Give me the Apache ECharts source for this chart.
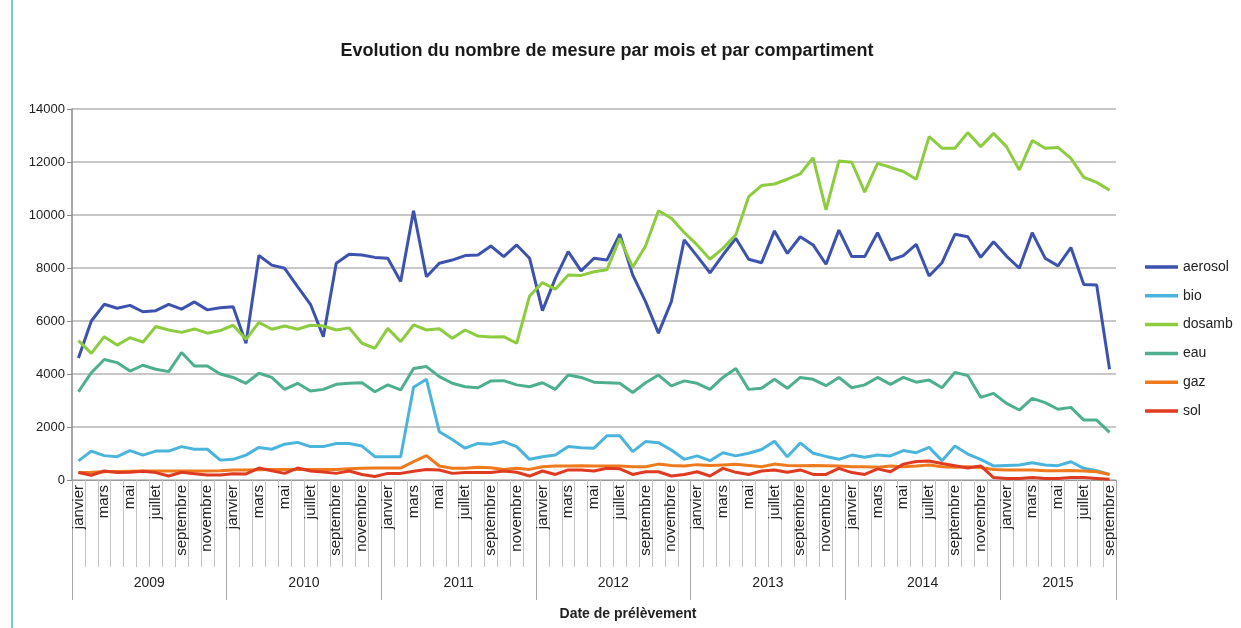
<!DOCTYPE html>
<html><head><meta charset="utf-8">
<script src="https://cdn.jsdelivr.net/npm/echarts@6/dist/echarts.min.js"></script>
<style>html,body{margin:0;padding:0;background:#fff}#c{width:1241px;height:628px}</style>
</head><body><div id="c"></div>
<script>
const years = [2009, 2010, 2011, 2012, 2013, 2014, 2015];
const monthNames = ['janvier','février','mars','avril','mai','juin','juillet','août','septembre','octobre','novembre','décembre'];
const monthsInLastYear = 9;

const aerosol = [4600,6000,6630,6480,6590,6350,6390,6630,6450,6720,6420,6500,
  6540,5160,8470,8110,7990,7300,6630,5410,8180,8520,8490,8400,
  8370,7490,10160,7670,8180,8300,8470,8490,8830,8430,8870,8370,
  6390,7610,8620,7890,8370,8300,9280,7740,6730,5540,6730,9060,
  8450,7820,8490,9120,8330,8200,9400,8550,9180,8870,8140,9430,
  8430,8430,9330,8300,8470,8890,7700,8200,9270,9180,8400,8990,
  8450,7990,9330,8370,8080,8770,7380,7360,4180];
const bio = [720,1090,920,880,1110,940,1090,1090,1260,1160,1160,750,
  780,940,1230,1160,1350,1420,1260,1260,1380,1380,1280,880,
  880,880,3500,3800,1820,1530,1200,1380,1350,1450,1260,780,
  880,940,1260,1220,1200,1670,1670,1070,1450,1410,1130,780,
  910,730,1030,910,1010,1150,1460,880,1400,1010,890,780,
  940,860,940,910,1110,1030,1230,730,1280,980,780,530,
  550,570,650,570,540,690,440,350,210];
const dosamb = [5260,4780,5410,5090,5370,5200,5790,5660,5570,5700,5540,5640,
  5840,5310,5950,5690,5810,5690,5840,5810,5660,5740,5160,4970,
  5720,5220,5850,5660,5710,5350,5660,5430,5400,5410,5160,6940,
  7450,7200,7740,7720,7860,7930,9120,8030,8830,10160,9880,9340,
  8870,8330,8740,9250,10690,11110,11170,11350,11550,12160,10190,12040,
  11990,10860,11950,11800,11640,11350,12960,12520,12520,13110,12580,13080,
  12580,11700,12810,12520,12550,12140,11420,11230,10940];
const eau = [3330,4050,4550,4430,4110,4330,4180,4090,4810,4300,4300,4000,
  3870,3650,4030,3870,3420,3650,3360,3420,3610,3650,3670,3330,
  3590,3400,4210,4280,3900,3650,3520,3480,3740,3750,3590,3520,
  3670,3420,3960,3870,3690,3670,3650,3300,3670,3960,3550,3740,
  3650,3420,3870,4210,3420,3460,3800,3460,3870,3800,3560,3870,
  3480,3590,3870,3610,3870,3690,3770,3480,4060,3940,3120,3270,
  2890,2640,3080,2920,2670,2740,2260,2260,1800];
const gaz = [280,290,310,320,330,340,340,340,340,340,340,350,
  380,380,390,400,400,400,400,400,400,420,440,450,
  450,450,690,920,530,440,440,480,460,400,440,400,
  500,530,530,540,530,530,530,500,500,600,550,530,
  580,550,570,590,550,500,600,550,540,550,540,530,
  500,500,480,530,500,530,570,500,480,500,470,400,
  380,380,380,350,350,360,340,310,210];
const sol = [280,180,340,280,290,330,280,150,290,240,190,190,
  240,230,450,350,250,450,340,300,250,340,210,130,
  250,250,330,400,380,250,280,280,280,340,290,150,
  340,210,380,380,340,440,420,210,310,310,150,210,
  310,150,440,290,210,340,380,290,380,210,210,440,
  280,210,420,310,600,700,720,620,540,450,530,90,
  60,60,90,60,60,90,90,60,25];

const seriesNames = ['aerosol','bio','dosamb','eau','gaz','sol'];
const seriesData = [aerosol, bio, dosamb, eau, gaz, sol];
const colors = ['#3D51AE','#4BB4DD','#8DCB3F','#4DAF8E','#EF7A1E','#DF3A22'];

const categories = [];
years.forEach((y, yi) => {
  const n = (yi === years.length - 1) ? monthsInLastYear : 12;
  for (let m = 0; m < n; m++) categories.push(y + '-' + m);
});

const FONT = 'Liberation Sans';
const chart = echarts.init(document.getElementById('c'), null, {renderer: 'canvas'});
chart.setOption({
  animation: false,
  backgroundColor: '#fff',
  textStyle: {fontFamily: FONT},
  title: {
    text: 'Evolution du nombre de mesure par mois et par compartiment',
    left: 602, top: 37, textAlign: 'center',
    textStyle: {fontFamily: FONT, fontSize: 18, fontWeight: 'bold', color: '#1a1a1a'}
  },
  graphic: [{type: 'line', shape: {x1: 12, y1: 0, x2: 12, y2: 628}, style: {stroke: '#4DB6CC', lineWidth: 1.5}}],
  legend: {
    orient: 'vertical', left: 1145, top: 260, padding: 0,
    icon: 'rect', itemWidth: 33, itemHeight: 3.5, itemGap: 14.8,
    textStyle: {fontFamily: FONT, fontSize: 14, color: '#222'},
    data: seriesNames
  },
  grid: {left: 72, right: 125, top: 109, bottom: 148, containLabel: false},
  xAxis: [{
    type: 'category', data: categories, boundaryGap: true,
    axisLine: {show: true, lineStyle: {color: '#9a9a9a', width: 1}},
    axisTick: {show: true, interval: 0, length: 87, lineStyle: {color: '#c4c4c4', width: 1}},
    axisLabel: {
      interval: 1, rotate: 90, margin: 5, fontFamily: FONT, fontSize: 15, color: '#222',
      formatter: v => monthNames[parseInt(v.split('-')[1], 10)]
    },
    splitLine: {show: false}
  }, {
    type: 'category', data: categories, boundaryGap: true, position: 'bottom',
    axisLine: {show: false},
    axisTick: {show: true, interval: i => i % 12 === 0, length: 120, lineStyle: {color: '#a8a8a8', width: 1}},
    axisLabel: {
      interval: i => (i % 12 === 6) || (i === categories.length - 5),
      margin: 96, fontFamily: FONT, fontSize: 14, color: '#222',
      formatter: (v, idx) => {
        const y = v.split('-')[0];
        return idx === categories.length - 5 ? '{b|' + y + '}' : '{a|' + y + '}';
      },
      rich: {
        a: {fontFamily: FONT, fontSize: 14, color: '#222', padding: [0, 13, 0, 0]},
        b: {fontFamily: FONT, fontSize: 14, color: '#222'}
      }
    },
    name: 'Date de prélèvement', nameLocation: 'middle', nameGap: 127,
    nameTextStyle: {fontFamily: FONT, fontSize: 14, fontWeight: 'bold', color: '#222', padding: [0, 0, 0, 68]}
  }],
  yAxis: {
    type: 'value', min: 0, max: 14000, interval: 2000,
    axisLine: {show: true, lineStyle: {color: '#8a8a8a', width: 1.5}},
    axisTick: {show: true, length: 5, lineStyle: {color: '#8a8a8a'}},
    axisLabel: {fontFamily: FONT, fontSize: 13, color: '#222', margin: 7, formatter: v => String(v)},
    splitLine: {show: true, lineStyle: {color: '#b4b4b4', width: 1.5}}
  },
  series: seriesNames.map((name, k) => ({
    name, type: 'line', data: seriesData[k], xAxisIndex: 0,
    showSymbol: false, symbol: 'none',
    lineStyle: {color: colors[k], width: 3},
    itemStyle: {color: colors[k]},
    emphasis: {disabled: true}
  }))
});
</script>
</body></html>
